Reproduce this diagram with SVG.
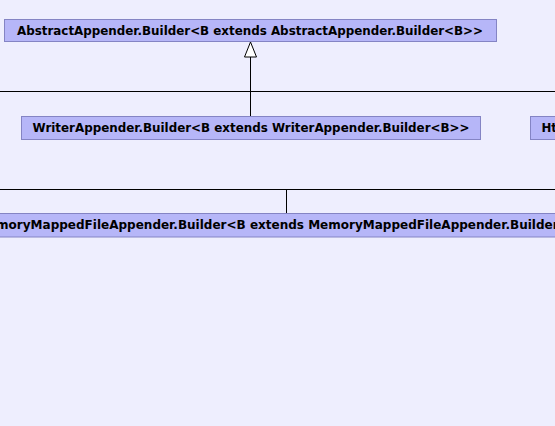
<svg xmlns="http://www.w3.org/2000/svg" width="555" height="426" viewBox="0 0 555 426">
<style>
.bg{fill:#eeeefe}
.box{fill:#b6b6f8;stroke:#8484c4;stroke-width:1}
.lbl{font-family:"DejaVu Sans",sans-serif;font-weight:bold;font-size:11.8px;fill:#000;text-anchor:middle}
.edge{stroke:#000;stroke-width:1;fill:none}
</style>
<rect class="bg" x="0" y="0" width="555" height="426"/>
<g id="connectors">
<path class="edge" d="M250.5,116.5 V91.5 M0,91.5 H555 M250.5,91.5 V57"/>
<path d="M250.5,42 L256.5,57 L244.5,57 Z" fill="#fff" stroke="#000" stroke-width="1"/>
<path class="edge" d="M0,189.5 H555 M286.5,189.5 V213.5"/>
</g>
<g id="abstractAppenderBuilder">
<rect class="box" x="4.5" y="19.5" width="492" height="22"/>
<text class="lbl" x="250" y="34.8" textLength="466" lengthAdjust="spacingAndGlyphs">AbstractAppender.Builder&lt;B extends AbstractAppender.Builder&lt;B&gt;&gt;</text>
</g>
<g id="writerAppenderBuilder">
<rect class="box" x="21.5" y="116.5" width="459" height="23"/>
<text class="lbl" x="251" y="132.3" textLength="437" lengthAdjust="spacingAndGlyphs">WriterAppender.Builder&lt;B extends WriterAppender.Builder&lt;B&gt;&gt;</text>
</g>
<g id="httpAppenderBuilder">
<rect class="box" x="530.5" y="116.5" width="440" height="23"/>
<text class="lbl" x="541.5" y="132.3" style="text-anchor:start">HttpAppender.Builder&lt;B extends HttpAppender.Builder&lt;B&gt;&gt;</text>
</g>
<g id="memoryMappedFileAppenderBuilder">
<rect class="box" x="-40.5" y="213.5" width="654" height="23.5"/>
<text class="lbl" x="287" y="229.3" textLength="622" lengthAdjust="spacingAndGlyphs">MemoryMappedFileAppender.Builder&lt;B extends MemoryMappedFileAppender.Builder&lt;B&gt;&gt;</text>
</g>
</svg>
